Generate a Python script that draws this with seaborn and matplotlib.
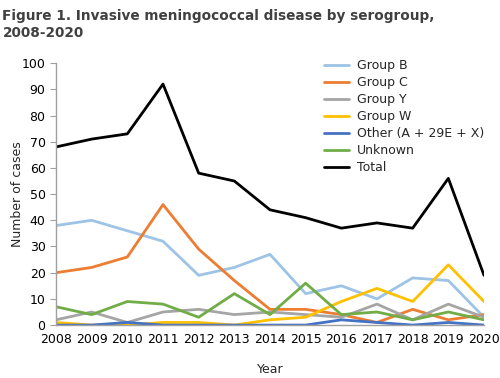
import matplotlib
matplotlib.use("Agg")
import pandas as pd
import seaborn as sns
import matplotlib.pyplot as plt


# Data

years = list(range(2008, 2021))

group_b = [38, 40, 36, 32, 19, 22, 27, 12, 15, 10, 18, 17, 3]
group_c = [20, 22, 26, 46, 29, 17, 6, 6, 4, 1, 6, 2, 4]
group_y = [2, 5, 1, 5, 6, 4, 5, 4, 3, 8, 2, 8, 3]
group_w = [1, 0, 0, 1, 1, 0, 2, 3, 9, 14, 9, 23, 9]
other = [0, 0, 1, 0, 0, 0, 0, 0, 2, 1, 0, 1, 0]
unknown = [7, 4, 9, 8, 3, 12, 4, 16, 4, 5, 2, 5, 2]
total = [68, 71, 73, 92, 58, 55, 44, 41, 37, 39, 37, 56, 19]

series_names = ["Group B", "Group C", "Group Y", "Group W",
                "Other (A + 29E + X)", "Unknown", "Total"]
series_colors = ["#9dc3e6", "#ed7d31", "#a5a5a5", "#ffc000",
                 "#4472c4", "#70ad47", "#000000"]


# Long format for seaborn

wide = pd.DataFrame({
    "Year": years,
    "Group B": group_b,
    "Group C": group_c,
    "Group Y": group_y,
    "Group W": group_w,
    "Other (A + 29E + X)": other,
    "Unknown": unknown,
    "Total": total,
})
long = wide.melt(id_vars="Year", var_name="Serogroup", value_name="Cases")


# Plot

sns.set_style("white")
plt.rcParams["font.family"] = ["DejaVu Sans"]

fig = plt.figure(figsize=(5, 3.78), dpi=100)
ax = fig.add_axes([0.112, 0.140, 0.856, 0.693])

sns.lineplot(data=long, x="Year", y="Cases", hue="Serogroup",
             hue_order=series_names, palette=dict(zip(series_names, series_colors)),
             linewidth=2, ax=ax)

ax.set_xlim(2008, 2020)
ax.set_ylim(0, 100)
ax.set_xticks(years)
ax.set_yticks(range(0, 101, 10))
ax.tick_params(axis="both", labelsize=9, colors="black")
ax.tick_params(axis="y", length=4, color="#a0a0a0", direction="out", left=True)
ax.tick_params(axis="x", length=0, pad=6)

for side in ["top", "right"]:
    ax.spines[side].set_visible(False)
for side in ["left", "bottom"]:
    ax.spines[side].set_color("#a0a0a0")
    ax.spines[side].set_linewidth(1)

ax.set_xlabel("Year", fontsize=9, labelpad=12)
ax.set_ylabel("Number of cases", fontsize=9)
ax.yaxis.set_label_coords(-0.075, 0.5)

leg = ax.legend(loc="upper left", bbox_to_anchor=(0.615, 1.035), frameon=False,
                fontsize=9, handlelength=2.0, handletextpad=0.6,
                labelspacing=0.32, borderaxespad=0)
for line in leg.get_lines():
    line.set_linewidth(2)

fig.text(0.005, 0.975, "Figure 1. Invasive meningococcal disease by serogroup,\n2008-2020",
         fontsize=9.8, fontweight="bold", color="#404040", va="top", ha="left",
         linespacing=1.25)

fig.savefig("out.png", dpi=100)
